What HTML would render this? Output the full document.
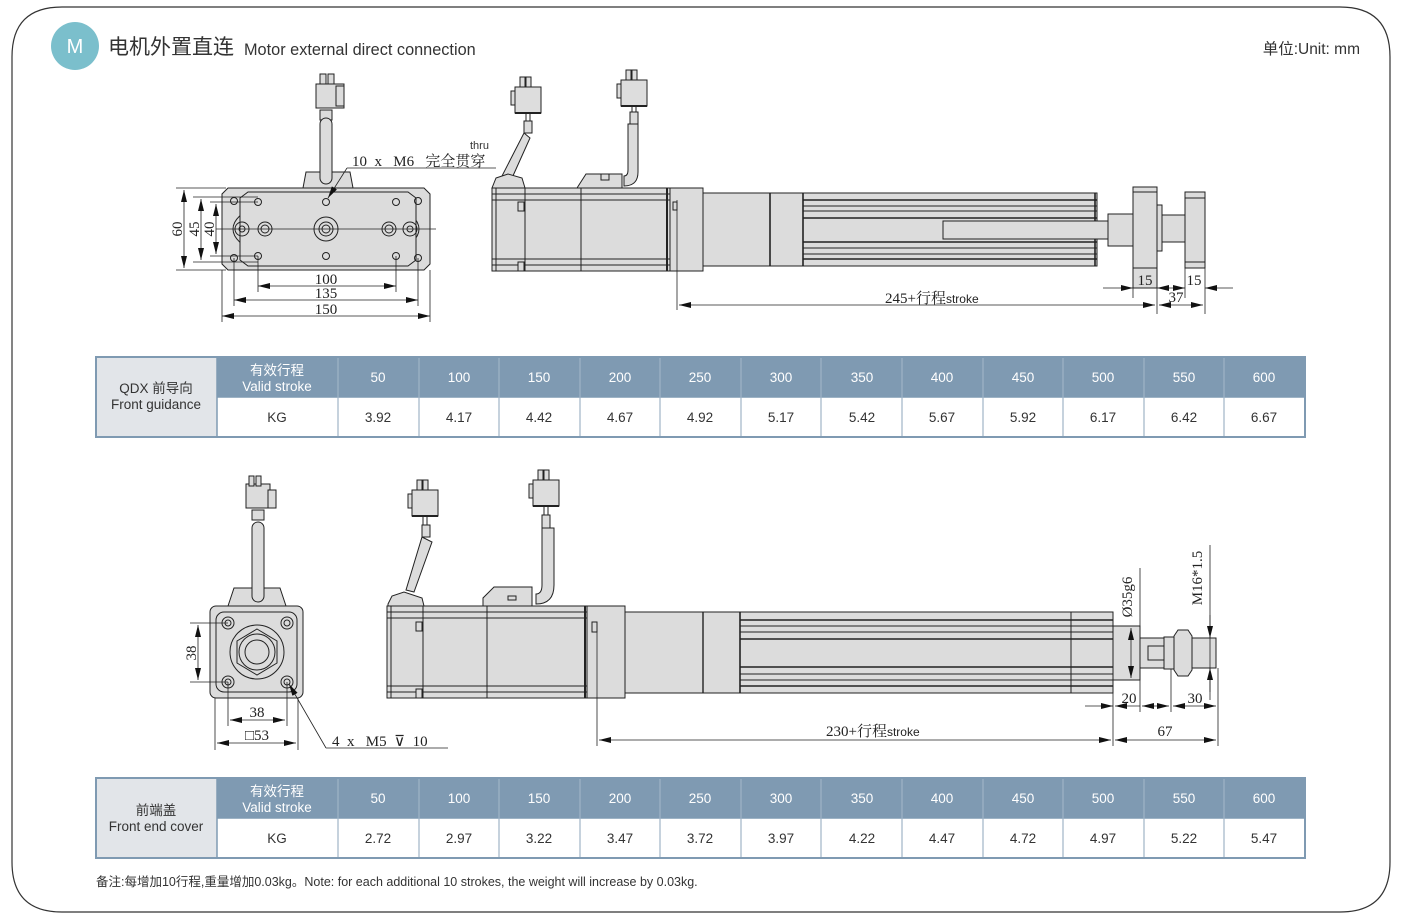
<!DOCTYPE html>
<html><head><meta charset="utf-8"><style>
html,body{margin:0;padding:0;background:#fff;}
svg{display:block;}
.t{font-family:"Liberation Serif","Noto Serif CJK SC",serif;font-size:15px;fill:#222;}
.s{font-family:"Liberation Sans","Noto Sans CJK SC",sans-serif;}
.pre{white-space:pre;}
</style></head><body>
<svg width="1406" height="924" viewBox="0 0 1406 924" xmlns="http://www.w3.org/2000/svg">
<defs>
<marker id="a" markerWidth="12" markerHeight="6" refX="12" refY="3" orient="auto-start-reverse" markerUnits="userSpaceOnUse"><path d="M0,0 L12,3 L0,6z" fill="#111"/></marker>
<g id="conn">
<rect x="-13" y="0" width="26" height="26" fill="#ddd" stroke="#222"/>
<rect x="-8" y="-10" width="5" height="10" fill="#ddd" stroke="#222"/><rect x="-2" y="-10" width="5" height="10" fill="#ddd" stroke="#222"/>
<rect x="-17" y="4" width="4" height="14" fill="#ddd" stroke="#222"/>
<line x1="-13" y1="26" x2="13" y2="26" stroke="#222" stroke-width="2"/>
<line x1="-2" y1="26" x2="-2" y2="36" stroke="#222"/><line x1="2" y1="26" x2="2" y2="36" stroke="#222"/>
</g>
</defs>
<path d="M62,7 H1340 Q1390,7 1390,57 V862 Q1390,912 1340,912 H62 Q12,912 12,862 V57 Q12,7 62,7z" fill="none" stroke="#333" stroke-width="1.2"/>
<circle cx="75" cy="46" r="24" fill="#7bbfcc"/>
<text x="75" y="53" text-anchor="middle" class="s" font-size="20" fill="#fff">M</text>
<text x="108" y="54" class="s" font-size="21" fill="#333">电机外置直连</text>
<text x="244" y="55" class="s" font-size="16.3" fill="#333">Motor external direct connection</text>
<text x="1360" y="54" text-anchor="end" class="s" font-size="15.5" fill="#333">单位:Unit: mm</text>

<g stroke="#222" stroke-width="1" fill="#dcdcdc">
<!-- TOP FRONT VIEW -->
<rect x="316" y="84" width="28" height="24"/><rect x="320" y="74" width="6" height="10"/><rect x="328" y="74" width="6" height="10"/><rect x="336" y="86" width="8" height="20"/>
<rect x="320" y="110" width="12" height="10"/>
<path d="M303,188 L306,172 L350,172 L353,188z"/>
<rect x="320" y="118" width="12" height="66" rx="6"/>
<path d="M228,188 H424 L430,194 V264 L424,270 H228 L222,264 V194z"/>
<ellipse cx="326" cy="229" rx="93" ry="35"/>
<path d="M248,192 H408 L416,198 V260 L408,266 H248 L240,260 V198z"/>
<g fill="none"><circle cx="242" cy="229" r="7"/><circle cx="242" cy="229" r="3"/><circle cx="410" cy="229" r="7"/><circle cx="410" cy="229" r="3"/>
<circle cx="265" cy="229" r="7"/><circle cx="265" cy="229" r="4"/><circle cx="389" cy="229" r="7"/><circle cx="389" cy="229" r="4"/>
<circle cx="326" cy="229" r="12"/><circle cx="326" cy="229" r="7"/><circle cx="326" cy="229" r="4"/>
<circle cx="234" cy="201" r="3.5"/><circle cx="418" cy="201" r="3.5"/><circle cx="234" cy="258" r="3.5"/><circle cx="418" cy="258" r="3.5"/>
<circle cx="258" cy="202" r="3.5"/><circle cx="326" cy="202" r="3.5"/><circle cx="396" cy="202" r="3.5"/><circle cx="258" cy="256" r="3.5"/><circle cx="326" cy="256" r="3.5"/><circle cx="396" cy="256" r="3.5"/></g>
</g>
<g stroke="#222" stroke-width="0.8" fill="none">
<line x1="216" y1="229" x2="436" y2="229"/>
<line x1="176" y1="188" x2="226" y2="188"/><line x1="176" y1="270" x2="226" y2="270"/>
<line x1="193" y1="197" x2="258" y2="197"/><line x1="193" y1="262" x2="258" y2="262"/>
<line x1="210" y1="202" x2="258" y2="202"/><line x1="210" y1="256" x2="258" y2="256"/>
<line x1="184" y1="190" x2="184" y2="268" marker-start="url(#a)" marker-end="url(#a)"/>
<line x1="201" y1="199" x2="201" y2="260" marker-start="url(#a)" marker-end="url(#a)"/>
<line x1="216" y1="204" x2="216" y2="254" marker-start="url(#a)" marker-end="url(#a)"/>
<line x1="258" y1="256" x2="258" y2="292"/><line x1="396" y1="256" x2="396" y2="292"/>
<line x1="234" y1="258" x2="234" y2="306"/><line x1="418" y1="258" x2="418" y2="306"/>
<line x1="222" y1="270" x2="222" y2="322"/><line x1="430" y1="270" x2="430" y2="322"/>
<line x1="258" y1="286" x2="396" y2="286" marker-start="url(#a)" marker-end="url(#a)"/>
<line x1="234" y1="300" x2="418" y2="300" marker-start="url(#a)" marker-end="url(#a)"/>
<line x1="222" y1="316" x2="430" y2="316" marker-start="url(#a)" marker-end="url(#a)"/>
<line x1="328" y1="198" x2="347" y2="168" marker-start="url(#a)"/><line x1="347" y1="168" x2="496" y2="168"/>
</g>
<text class="t" transform="translate(182,229) rotate(-90)" text-anchor="middle">60</text>
<text class="t" transform="translate(199,229) rotate(-90)" text-anchor="middle">45</text>
<text class="t" transform="translate(214,229) rotate(-90)" text-anchor="middle">40</text>
<text class="t" x="326" y="284" text-anchor="middle">100</text>
<text class="t" x="326" y="298" text-anchor="middle">135</text>
<text class="t" x="326" y="314" text-anchor="middle">150</text>
<text class="t pre" x="352" y="166" font-size="14">10  x   M6   完全贯穿</text>
<text class="s" x="470" y="149" font-size="11" fill="#333">thru</text>

<!-- TOP SIDE VIEW -->
<g stroke="#222" stroke-width="1" fill="#dcdcdc">
<use href="#conn" x="528" y="87"/><use href="#conn" x="634" y="80"/>
<rect x="524" y="121" width="8" height="12"/><rect x="630" y="112" width="8" height="12"/>
<path d="M524,133 L530,138 L512,178 L502,176z"/>
<path d="M628,124 H638 V172 Q638,186 624,186 V176 Q628,176 628,170z"/>
<path d="M496,178 L508,174 L522,178 L525,188 L492,188z"/>
<path d="M577,188 L586,174 H622 V188z"/><rect x="601" y="174" width="8" height="6"/>
<rect x="492" y="188" width="178" height="83"/>
<line x1="496" y1="188" x2="496" y2="271"/><line x1="525" y1="188" x2="525" y2="271"/><line x1="581" y1="188" x2="581" y2="271"/>
<line x1="492" y1="194" x2="670" y2="194"/><line x1="492" y1="200" x2="670" y2="200"/><line x1="492" y1="259" x2="670" y2="259"/><line x1="492" y1="265" x2="670" y2="265"/>
<rect x="518" y="202" width="6" height="9"/><rect x="518" y="262" width="6" height="9"/>
<line x1="667" y1="188" x2="667" y2="271" stroke-width="2"/>
<rect x="670" y="188" width="33" height="83"/><rect x="673" y="202" width="4" height="8"/>
<rect x="703" y="193" width="394" height="73"/>
<line x1="770" y1="193" x2="770" y2="266" stroke-width="1.6"/><line x1="803" y1="193" x2="803" y2="266" stroke-width="1.6"/>
<line x1="803" y1="200" x2="1097" y2="200" stroke-width="1.6"/><line x1="803" y1="206" x2="1097" y2="206"/><line x1="803" y1="211" x2="1097" y2="211"/><line x1="803" y1="218" x2="1097" y2="218" stroke-width="1.4"/>
<line x1="803" y1="242" x2="1097" y2="242" stroke-width="1.4"/><line x1="803" y1="248" x2="1097" y2="248"/><line x1="803" y1="254" x2="1097" y2="254"/><line x1="803" y1="259" x2="1097" y2="259" stroke-width="1.6"/>
<line x1="1095" y1="193" x2="1095" y2="266" stroke-width="1.6"/>
<rect x="943" y="221" width="165" height="18"/>
<rect x="1108" y="214" width="25" height="32"/>
<rect x="1133" y="187" width="24" height="101"/><line x1="1133" y1="192" x2="1157" y2="192"/><line x1="1133" y1="268" x2="1157" y2="268"/>
<rect x="1157" y="205" width="5" height="46"/><rect x="1162" y="215" width="23" height="27"/>
<rect x="1185" y="192" width="20" height="76"/><line x1="1185" y1="198" x2="1205" y2="198"/><line x1="1185" y1="262" x2="1205" y2="262"/>
</g>
<g stroke="#222" stroke-width="0.8" fill="none">
<line x1="677" y1="200" x2="677" y2="310"/>
<line x1="1133" y1="288" x2="1133" y2="298"/><line x1="1157" y1="250" x2="1157" y2="314"/><line x1="1185" y1="268" x2="1185" y2="298"/><line x1="1205" y1="268" x2="1205" y2="314"/>
<line x1="679" y1="305" x2="1155" y2="305" marker-start="url(#a)" marker-end="url(#a)"/>
<line x1="1159" y1="305" x2="1203" y2="305" marker-start="url(#a)" marker-end="url(#a)"/>
<line x1="1103" y1="288" x2="1133" y2="288" marker-end="url(#a)"/><line x1="1157" y1="288" x2="1185" y2="288" marker-start="url(#a)" marker-end="url(#a)"/><line x1="1233" y1="288" x2="1205" y2="288" marker-end="url(#a)"/>
</g>
<text class="t" x="885" y="303">245+行程<tspan class="s" font-size="12">stroke</tspan></text>
<text class="t" x="1145" y="285" text-anchor="middle" font-size="14">15</text>
<text class="t" x="1194" y="285" text-anchor="middle" font-size="14">15</text>
<text class="t" x="1176" y="302" text-anchor="middle" font-size="14">37</text>

<!-- BOTTOM FRONT VIEW -->
<g stroke="#222" stroke-width="1" fill="#dcdcdc">
<rect x="246" y="484" width="24" height="24"/><rect x="249" y="476" width="5" height="10"/><rect x="256" y="476" width="5" height="10"/><rect x="268" y="490" width="8" height="18"/>
<rect x="252" y="510" width="12" height="10"/>
<path d="M228,606 L234,588 H280 L286,606z"/>
<rect x="252" y="522" width="12" height="80" rx="6"/>
<rect x="210" y="606" width="93" height="92" rx="6"/>
<rect x="216" y="612" width="81" height="80" rx="8" fill="none"/>
<circle cx="257" cy="652" r="27"/><path d="M257,629 L277,641 V663 L257,675 L237,663 V641z"/>
<circle cx="257" cy="652" r="18"/><circle cx="257" cy="652" r="12"/>
<g fill="none"><circle cx="228" cy="623" r="6"/><circle cx="228" cy="623" r="3"/><circle cx="287" cy="623" r="6"/><circle cx="287" cy="623" r="3"/><circle cx="228" cy="682" r="6"/><circle cx="228" cy="682" r="3"/><circle cx="287" cy="682" r="6"/><circle cx="287" cy="682" r="3"/></g>
</g>
<g stroke="#222" stroke-width="0.8" fill="none">
<line x1="190" y1="623" x2="228" y2="623"/><line x1="190" y1="682" x2="228" y2="682"/>
<line x1="198" y1="625" x2="198" y2="680" marker-start="url(#a)" marker-end="url(#a)"/>
<line x1="228" y1="682" x2="228" y2="726"/><line x1="287" y1="682" x2="287" y2="726"/>
<line x1="215" y1="698" x2="215" y2="750"/><line x1="298" y1="698" x2="298" y2="750"/>
<line x1="230" y1="720" x2="285" y2="720" marker-start="url(#a)" marker-end="url(#a)"/>
<line x1="217" y1="743" x2="296" y2="743" marker-start="url(#a)" marker-end="url(#a)"/>
<line x1="289" y1="684" x2="326" y2="748" marker-start="url(#a)"/><line x1="326" y1="748" x2="448" y2="748"/>
</g>
<text class="t" transform="translate(196,653) rotate(-90)" text-anchor="middle">38</text>
<text class="t" x="257" y="717" text-anchor="middle">38</text>
<text class="t" x="257" y="740" text-anchor="middle">□53</text>
<text class="t pre" x="332" y="746" font-size="14">4  x   M5  ⊽  10</text>

<!-- BOTTOM SIDE VIEW -->
<g stroke="#222" stroke-width="1" fill="#dcdcdc">
<use href="#conn" x="425" y="490"/><use href="#conn" x="546" y="480"/>
<rect x="422" y="525" width="8" height="12"/><rect x="542" y="515" width="8" height="14"/>
<path d="M422,537 L432,542 L414,592 L406,590z"/>
<path d="M542,528 H554 V585 Q554,604 536,604 V594 Q542,594 542,585z"/>
<path d="M388,604 L392,596 L404,592 L422,598 L424,606 H388z"/>
<path d="M483,606 V598 L494,587 H532 V606z"/><rect x="508" y="596" width="8" height="4"/>
<rect x="387" y="606" width="200" height="92"/>
<line x1="391" y1="606" x2="391" y2="698"/><line x1="423" y1="606" x2="423" y2="698"/><line x1="487" y1="606" x2="487" y2="698"/>
<line x1="387" y1="612" x2="587" y2="612"/><line x1="387" y1="618" x2="587" y2="618"/><line x1="387" y1="686" x2="587" y2="686"/><line x1="387" y1="692" x2="587" y2="692"/>
<rect x="416" y="622" width="6" height="9"/><rect x="416" y="689" width="6" height="9"/>
<line x1="585" y1="606" x2="585" y2="698" stroke-width="2"/>
<rect x="587" y="606" width="38" height="92"/><rect x="592" y="622" width="5" height="10"/>
<rect x="625" y="612" width="488" height="81"/>
<line x1="703" y1="612" x2="703" y2="693" stroke-width="1.4"/><line x1="740" y1="612" x2="740" y2="693" stroke-width="1.6"/>
<line x1="740" y1="620" x2="1113" y2="620" stroke-width="1.6"/><line x1="740" y1="626" x2="1113" y2="626"/><line x1="740" y1="632" x2="1113" y2="632"/><line x1="740" y1="639" x2="1113" y2="639" stroke-width="1.4"/>
<line x1="740" y1="667" x2="1113" y2="667" stroke-width="1.4"/><line x1="740" y1="674" x2="1113" y2="674"/><line x1="740" y1="680" x2="1113" y2="680"/><line x1="740" y1="686" x2="1113" y2="686" stroke-width="1.6"/>
<line x1="1071" y1="612" x2="1071" y2="693"/>
<rect x="1113" y="626" width="27" height="54"/>
<rect x="1140" y="638" width="24" height="30"/><rect x="1148" y="646" width="16" height="14"/>
<rect x="1164" y="637" width="10" height="32"/>
<path d="M1174,636 L1178,630 H1188 L1192,636 V670 L1188,676 H1178 L1174,670z"/>
<rect x="1192" y="638" width="24" height="30"/>
</g>
<g stroke="#222" stroke-width="0.8" fill="none">
<line x1="597" y1="622" x2="597" y2="746"/>
<line x1="1113" y1="680" x2="1113" y2="746"/><line x1="1140" y1="664" x2="1140" y2="712"/><line x1="1171" y1="669" x2="1171" y2="712"/><line x1="1218" y1="668" x2="1218" y2="746"/>
<line x1="1140" y1="568" x2="1140" y2="626"/><line x1="1131" y1="628" x2="1131" y2="678" marker-start="url(#a)" marker-end="url(#a)"/>
<line x1="1210" y1="545" x2="1210" y2="700"/>
<line x1="1210" y1="615" x2="1210" y2="638" marker-end="url(#a)"/><line x1="1210" y1="692" x2="1210" y2="668" marker-end="url(#a)"/>
<line x1="599" y1="740" x2="1111" y2="740" marker-start="url(#a)" marker-end="url(#a)"/>
<line x1="1115" y1="740" x2="1216" y2="740" marker-start="url(#a)" marker-end="url(#a)"/>
<line x1="1085" y1="706" x2="1113" y2="706" marker-end="url(#a)"/><line x1="1115" y1="706" x2="1140" y2="706" marker-start="url(#a)"/>
<line x1="1142" y1="706" x2="1169" y2="706" marker-start="url(#a)" marker-end="url(#a)"/><line x1="1173" y1="706" x2="1216" y2="706" marker-start="url(#a)" marker-end="url(#a)"/>
</g>
<text class="t" x="826" y="736">230+行程<tspan class="s" font-size="12">stroke</tspan></text>
<text class="t" x="1129" y="703" text-anchor="middle">20</text>
<text class="t" x="1195" y="703" text-anchor="middle">30</text>
<text class="t" x="1165" y="736" text-anchor="middle">67</text>
<text class="t" transform="translate(1132,597) rotate(-90)" text-anchor="middle" font-size="14">Ø35g6</text>
<text class="t" transform="translate(1202,578) rotate(-90)" text-anchor="middle" font-size="14">M16*1.5</text>

<!-- TABLES -->
<g id="tbl">
<rect x="96" y="357" width="1209" height="80" fill="#fff" stroke="#7f9ab2" stroke-width="2"/>
<rect x="97" y="358" width="120" height="78" fill="#e2e5e9"/>
<rect x="217" y="358" width="1087" height="39" fill="#7f9ab2"/>
<g stroke="#7f9ab2" stroke-width="1.5"><line x1="217" y1="357" x2="217" y2="437"/><line x1="217" y1="397" x2="1305" y2="397"/></g>
<g stroke="#9fb4c6" stroke-width="1.2">
<line x1="338" y1="358" x2="338" y2="436"/><line x1="419" y1="358" x2="419" y2="436"/><line x1="499" y1="358" x2="499" y2="436"/><line x1="580" y1="358" x2="580" y2="436"/><line x1="660" y1="358" x2="660" y2="436"/><line x1="741" y1="358" x2="741" y2="436"/><line x1="821" y1="358" x2="821" y2="436"/><line x1="902" y1="358" x2="902" y2="436"/><line x1="983" y1="358" x2="983" y2="436"/><line x1="1063" y1="358" x2="1063" y2="436"/><line x1="1144" y1="358" x2="1144" y2="436"/><line x1="1224" y1="358" x2="1224" y2="436"/>
</g>
<g class="s" font-size="13.5" fill="#fff" text-anchor="middle">
<text x="277" y="375">有效行程</text><text x="277" y="391">Valid stroke</text>
<text x="378" y="382">50</text><text x="459" y="382">100</text><text x="539" y="382">150</text><text x="620" y="382">200</text><text x="700" y="382">250</text><text x="781" y="382">300</text><text x="862" y="382">350</text><text x="942" y="382">400</text><text x="1023" y="382">450</text><text x="1103" y="382">500</text><text x="1184" y="382">550</text><text x="1264" y="382">600</text>
</g>
</g>
<g class="s" font-size="13.5" fill="#333" text-anchor="middle">
<text x="156" y="393">QDX 前导向</text><text x="156" y="409">Front guidance</text>
<text x="277" y="422">KG</text>
<text x="378" y="422">3.92</text><text x="459" y="422">4.17</text><text x="539" y="422">4.42</text><text x="620" y="422">4.67</text><text x="700" y="422">4.92</text><text x="781" y="422">5.17</text><text x="862" y="422">5.42</text><text x="942" y="422">5.67</text><text x="1023" y="422">5.92</text><text x="1103" y="422">6.17</text><text x="1184" y="422">6.42</text><text x="1264" y="422">6.67</text>
</g>
<use href="#tbl" y="421"/>
<g class="s" font-size="13.5" fill="#333" text-anchor="middle">
<text x="156" y="815">前端盖</text><text x="156" y="831">Front end cover</text>
<text x="277" y="843">KG</text>
<text x="378" y="843">2.72</text><text x="459" y="843">2.97</text><text x="539" y="843">3.22</text><text x="620" y="843">3.47</text><text x="700" y="843">3.72</text><text x="781" y="843">3.97</text><text x="862" y="843">4.22</text><text x="942" y="843">4.47</text><text x="1023" y="843">4.72</text><text x="1103" y="843">4.97</text><text x="1184" y="843">5.22</text><text x="1264" y="843">5.47</text>
</g>
<text x="96" y="886" class="s" font-size="12.5" fill="#333">备注:每增加10行程,重量增加0.03kg。Note: for each additional 10 strokes, the weight will increase by 0.03kg.</text>
</svg>
</body></html>
